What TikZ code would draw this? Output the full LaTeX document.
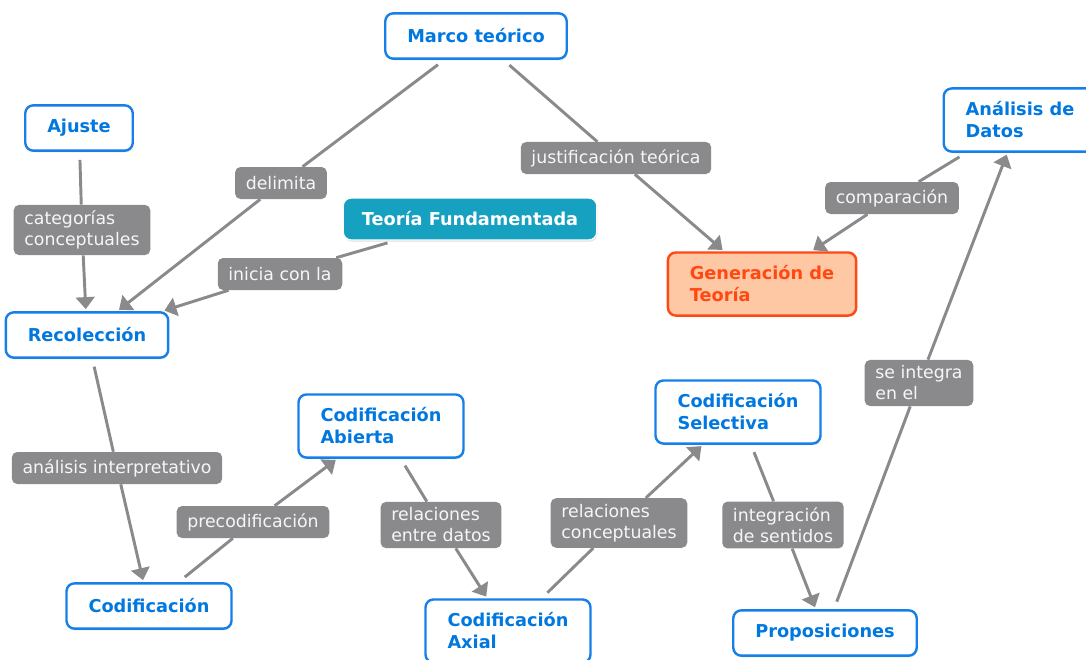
\documentclass[tikz,border=0pt]{standalone}
\usepackage{fontspec}
\setmainfont{DejaVu Sans}
\usepackage{tikz}
\usetikzlibrary{arrows.meta,shadows}
\definecolor{conceptblue}{RGB}{22,128,232}
\definecolor{concepttext}{RGB}{0,120,224}
\definecolor{linkgray}{RGB}{138,138,141}
\definecolor{labeltext}{RGB}{246,246,246}
\definecolor{tealfill}{RGB}{22,161,192}
\definecolor{softpeach}{RGB}{255,200,164}
\definecolor{redorange}{RGB}{255,72,18}

\begin{document}
\begin{tikzpicture}[x=0.75pt, y=-0.75pt,
    conceptbox/.style={rounded corners=6pt, draw=conceptblue, line width=1.8pt, fill=white, text=concepttext, align=left, font=\bfseries\fontsize{13.3}{16.5}\selectfont, inner xsep=16.5pt, inner ysep=10pt, minimum height=34pt, drop shadow={shadow xshift=0.5pt, shadow yshift=-1.2pt, opacity=0.25}},
    tealbox/.style={conceptbox, draw=white, line width=1pt, fill=tealfill, text=white, minimum height=31.5pt, inner xsep=14pt},
    orangebox/.style={conceptbox, draw=redorange, fill=softpeach, text=redorange},
    labelbox/.style={rounded corners=4pt, fill=linkgray, text=labeltext, align=left, font=\fontsize{13}{15.75}\selectfont, inner xsep=8pt, inner ysep=4.4pt, minimum height=24pt},
    link/.style={line width=2.2pt, draw=linkgray, shorten <=6pt},
    arrow/.style={line width=2.2pt, draw=linkgray, -{Triangle[length=9pt, width=14pt]}, shorten >=1.5pt}
]
\useasboundingbox (0,0) rectangle (1086,660);
\clip (0,0) rectangle (1086,660);

% concepts
\node[conceptbox] (marco) at (476,36) {Marco teórico};
\node[conceptbox] (ajuste) at (79,128) {Ajuste};
\node[conceptbox] (analisis) at (1020,120) {Análisis de\\Datos};
\node[tealbox] (teoria) at (470,219) {Teoría Fundamentada};
\node[orangebox] (generacion) at (762,284) {Generación de\\Teoría};
\node[conceptbox] (recoleccion) at (87,335) {Recolección};
\node[conceptbox] (abierta) at (381,426) {Codificación\\Abierta};
\node[conceptbox] (selectiva) at (738,412) {Codificación\\Selectiva};
\node[conceptbox] (codificacion) at (149,606) {Codificación};
\node[conceptbox] (axial) at (508,631) {Codificación\\Axial};
\node[conceptbox] (proposiciones) at (825,633) {Proposiciones};

% link labels
\node[labelbox] (delimita) at (281,183) {delimita};
\node[labelbox] (justificacion) at (616,158) {justificación teórica};
\node[labelbox] (categorias) at (82,230) {categorías\\conceptuales};
\node[labelbox] (inicia) at (280,274) {inicia con la};
\node[labelbox] (comparacion) at (892,198) {comparación};
\node[labelbox] (integra) at (919,383) {se integra\\en el};
\node[labelbox] (interpretativo) at (117,468) {análisis interpretativo};
\node[labelbox] (precodificacion) at (253,522) {precodificación};
\node[labelbox] (reldatos) at (441,525) {relaciones\\entre datos};
\node[labelbox] (relconceptos) at (619,523) {relaciones\\conceptuales};
\node[labelbox] (integracion) at (783,525) {integración\\de sentidos};

% links
\draw[link] (marco) -- (delimita);
\draw[arrow] (delimita) -- (recoleccion);
\draw[link] (marco) -- (justificacion);
\draw[arrow] (justificacion) -- (generacion);
\draw[link] (ajuste) -- (categorias);
\draw[arrow] (categorias) -- (recoleccion);
\draw[link] (teoria) -- (inicia);
\draw[arrow] (inicia) -- (recoleccion);
\draw[link] (analisis) -- (comparacion);
\draw[arrow] (comparacion) -- (generacion);
\draw[link] (proposiciones) -- (integra);
\draw[arrow] (integra) -- (analisis);
\draw[link] (recoleccion) -- (interpretativo);
\draw[arrow] (interpretativo) -- (codificacion);
\draw[link] (codificacion) -- (precodificacion);
\draw[arrow] (precodificacion) -- (abierta);
\draw[link] (abierta) -- (reldatos);
\draw[arrow] (reldatos) -- (axial);
\draw[link] (axial) -- (relconceptos);
\draw[arrow] (relconceptos) -- (selectiva);
\draw[link] (selectiva) -- (integracion);
\draw[arrow] (integracion) -- (proposiciones);
\end{tikzpicture}
\end{document}
